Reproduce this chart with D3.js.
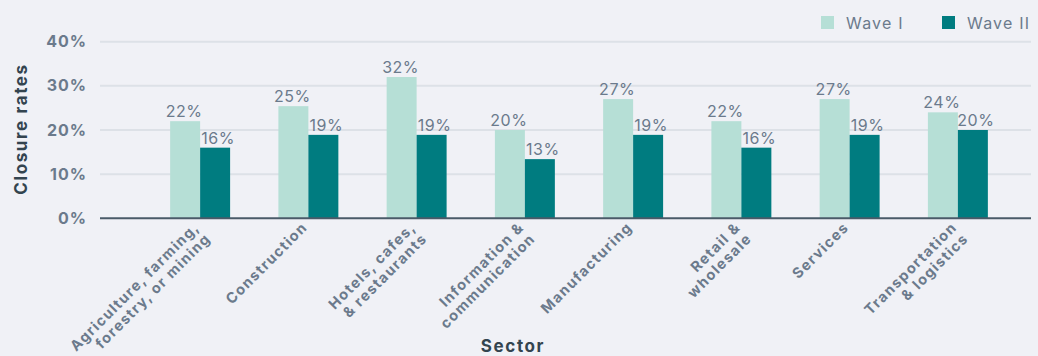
<!DOCTYPE html>
<html>
  <head>
    <meta charset="utf-8" />
    <script src="https://d3js.org/d3.v7.min.js"></script>
    <style>
      body { margin: 0; background: #f0f1f6; }
      svg { font-family: "Inter", "Noto Sans", sans-serif; }
    </style>
  </head>
  <body>
    <svg id="chart"></svg>
    <script>
      // Chart data
      var sectors = [
        ["Agriculture, farming,", "forestry, or mining"],
        ["Construction"],
        ["Hotels, cafes,", "& restaurants"],
        ["Information &", "communication"],
        ["Manufacturing"],
        ["Retail &", "wholesale"],
        ["Services"],
        ["Transportation", "& logistics"]
      ];
      var waveOne = [22, 25.4, 32, 20, 27, 22, 27, 24];
      var waveTwo = [16, 18.9, 18.9, 13.4, 18.9, 16, 18.9, 20];
      var waveNames = ["Wave I", "Wave II"];
      var yTicks = [0, 10, 20, 30, 40];

      var width = 1038;
      var height = 356;

      var lightColor = "#b6dfd6";
      var darkColor = "#007c80";
      var textGray = "#6b7a8c";
      var titleColor = "#33444f";

      var svg = d3.select("#chart").attr("width", width).attr("height", height);

      var keys = sectors.map(function (d) { return d.join(" "); });

      // Scales
      var x = d3.scaleBand()
        .domain(keys)
        .range([146, 1012])
        .paddingInner(0.446)
        .paddingOuter(0.223);

      var xSub = d3.scaleBand()
        .domain(waveNames)
        .range([0, x.bandwidth()]);

      var y = d3.scaleLinear().domain([0, 40]).range([218.3, 41.7]);

      // Gridlines
      svg.append("g")
        .selectAll("line")
        .data(yTicks.slice(1))
        .join("line")
        .attr("x1", 100)
        .attr("x2", 1031)
        .attr("y1", function (d) { return y(d); })
        .attr("y2", function (d) { return y(d); })
        .style("stroke", "#dde1e7")
        .style("stroke-width", "2px");

      // Y axis tick labels
      svg.append("g")
        .selectAll("text")
        .data(yTicks)
        .join("text")
        .attr("x", 87)
        .attr("y", function (d) { return y(d); })
        .attr("dy", "0.35em")
        .attr("text-anchor", "end")
        .style("font-size", "16px")
        .style("font-weight", "bold")
        .style("letter-spacing", "1px")
        .style("fill", textGray)
        .text(function (d) { return d + "%"; });

      // Bars
      var rows = keys.map(function (k, i) {
        return { key: k, values: [waveOne[i], waveTwo[i]] };
      });

      var groups = svg.append("g")
        .selectAll("g")
        .data(rows)
        .join("g")
        .attr("transform", function (d) { return "translate(" + x(d.key) + ",0)"; });

      groups.selectAll("rect")
        .data(function (d) {
          return d.values.map(function (v, j) { return { wave: waveNames[j], value: v }; });
        })
        .join("rect")
        .attr("x", function (d) { return xSub(d.wave); })
        .attr("y", function (d) { return y(d.value); })
        .attr("width", xSub.bandwidth())
        .attr("height", function (d) { return y(0) - y(d.value); })
        .attr("fill", function (d) { return d.wave === "Wave I" ? lightColor : darkColor; });

      // Value labels
      groups.selectAll("text")
        .data(function (d) {
          return d.values.map(function (v, j) { return { wave: waveNames[j], value: v }; });
        })
        .join("text")
        .attr("x", function (d) { return xSub(d.wave) + xSub.bandwidth() / 2 + (d.wave === "Wave I" ? -1 : 3); })
        .attr("y", function (d) { return y(d.value) - 4; })
        .attr("text-anchor", "middle")
        .style("font-size", "16px")
        .style("letter-spacing", "0.5px")
        .style("fill", textGray)
        .text(function (d) { return Math.round(d.value) + "%"; });

      // Baseline
      svg.append("line")
        .attr("x1", 100)
        .attr("x2", 1031)
        .attr("y1", y(0))
        .attr("y2", y(0))
        .style("stroke", "#4a5a68")
        .style("stroke-width", "2px");

      // X tick labels, rotated
      var xLabels = svg.append("g")
        .selectAll("text")
        .data(sectors)
        .join("text")
        .attr("transform", function (d, i) {
          return "translate(" + (x(keys[i]) + x.bandwidth() / 2) + "," + (y(0) + 10) + ") rotate(-45)";
        })
        .attr("text-anchor", "end")
        .style("font-size", "14.5px")
        .style("font-weight", "bold")
        .style("letter-spacing", "1.3px")
        .style("fill", textGray);

      xLabels.selectAll("tspan")
        .data(function (d) { return d; })
        .join("tspan")
        .attr("x", 0)
        .attr("dy", function (d, i) { return i === 0 ? "0em" : "1.1em"; })
        .text(function (d) { return d; });

      // Axis titles
      svg.append("text")
        .attr("transform", "translate(27,129) rotate(-90)")
        .attr("text-anchor", "middle")
        .style("font-size", "17px")
        .style("font-weight", "bold")
        .style("letter-spacing", "1.6px")
        .style("fill", titleColor)
        .text("Closure rates");

      svg.append("text")
        .attr("x", 513)
        .attr("y", 352)
        .attr("text-anchor", "middle")
        .style("font-size", "17px")
        .style("font-weight", "bold")
        .style("letter-spacing", "1.6px")
        .style("fill", titleColor)
        .text("Sector");

      // Legend
      var legendX = [821, 942];
      var legend = svg.append("g")
        .selectAll("g")
        .data(waveNames)
        .join("g")
        .attr("transform", function (d, i) { return "translate(" + legendX[i] + ",16)"; });

      legend.append("rect")
        .attr("width", 13)
        .attr("height", 13)
        .attr("fill", function (d, i) { return i === 0 ? lightColor : darkColor; });

      legend.append("text")
        .attr("x", 25)
        .attr("y", 7)
        .attr("dy", "0.35em")
        .style("font-size", "16px")
        .style("letter-spacing", "1.2px")
        .style("fill", textGray)
        .text(function (d) { return d; });
    </script>
  </body>
</html>
